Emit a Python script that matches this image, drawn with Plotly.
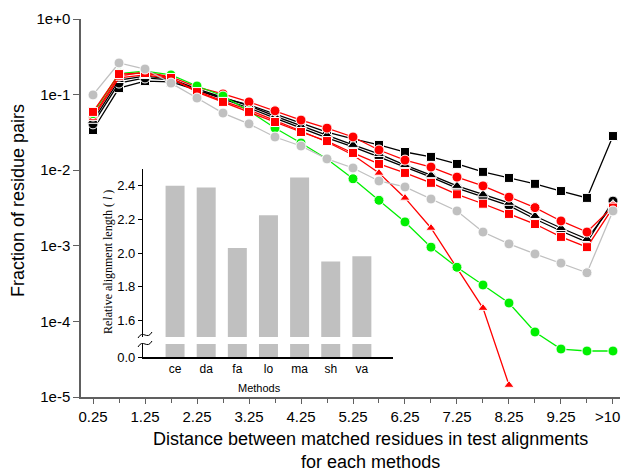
import plotly.graph_objects as go

# ---------------- data ----------------
x_vals = [0.25, 0.75, 1.25, 1.75, 2.25, 2.75, 3.25, 3.75, 4.25, 4.75, 5.25,
          5.75, 6.25, 6.75, 7.25, 7.75, 8.25, 8.75, 9.25, 9.75, 10.25]
x_tick_vals = [0.25, 1.25, 2.25, 3.25, 4.25, 5.25, 6.25, 7.25, 8.25, 9.25, 10.25]
x_tick_text = ["0.25", "1.25", "2.25", "3.25", "4.25", "5.25", "6.25", "7.25", "8.25", "9.25", ">10"]
y_tick_vals = [1e-5, 1e-4, 1e-3, 1e-2, 1e-1, 1e0]
y_tick_text = ["1e-5", "1e-4", "1e-3", "1e-2", "1e-1", "1e+0"]

black_squares = [0.034, 0.122, 0.151, 0.147, 0.115, 0.090, 0.073, 0.055, 0.042, 0.032, 0.0259,
                 0.0216, 0.0174, 0.0150, 0.0121, 0.0095, 0.0079, 0.0066, 0.0053, 0.0043, 0.0283]
red_circles = [0.052, 0.176, 0.200, 0.171, 0.126, 0.102, 0.080, 0.061, 0.046, 0.036, 0.0275,
               0.0185, 0.0136, 0.0110, 0.0081, 0.0062, 0.0044, 0.0032, 0.00213, 0.00152, 0.0033]
black_circles = [0.041, 0.142, 0.166, 0.157, 0.115, 0.0875, 0.0665, 0.049, 0.036, 0.0267, 0.0203,
                 0.0150, 0.0110, 0.0081, 0.0058, 0.0044, 0.0034, 0.00226, 0.00157, 0.00112, 0.0039]
black_triangles = [0.045, 0.156, 0.176, 0.161, 0.119, 0.093, 0.071, 0.052, 0.0385, 0.0292, 0.0216,
                   0.0164, 0.0117, 0.0086, 0.0062, 0.0048, 0.0037, 0.00248, 0.00172, 0.00123, 0.0035]
red_squares = [0.059, 0.187, 0.193, 0.166, 0.108, 0.080, 0.059, 0.0434, 0.032, 0.0243, 0.0169,
               0.0121, 0.0092, 0.0068, 0.0048, 0.0036, 0.00264, 0.00194, 0.00131, 0.00096, 0.0032]
red_triangles = [0.049, 0.166, 0.182, 0.161, 0.112, 0.082, 0.0626, 0.046, 0.033, 0.0236, 0.0159,
                 0.0092, 0.0043, 0.00172, 0.00051, 0.000150, 0.0000144]
green_circles = [0.056, 0.190, 0.205, 0.182, 0.130, 0.0958, 0.0607, 0.0361, 0.0229, 0.0141, 0.0077,
                 0.0040, 0.00207, 0.00096, 0.00052, 0.000303, 0.000175, 0.0000724, 0.0000431,
                 0.0000406, 0.0000406]
gray_circles = [0.099, 0.262, 0.218, 0.142, 0.090, 0.057, 0.041, 0.0275, 0.0209, 0.0141, 0.0107,
                0.0072, 0.0060, 0.00416, 0.00289, 0.00152, 0.00106, 0.00078, 0.00059, 0.00044, 0.00289]

methods = ["ce", "da", "fa", "lo", "ma", "sh", "va"]
rel_length = [2.40, 2.39, 2.03, 2.225, 2.45, 1.95, 1.98]
inset_ticks = [1.6, 1.8, 2.0, 2.2, 2.4]

# ---------------- figure ----------------
fig = go.Figure()

FONT = "Arial, Liberation Sans, sans-serif"

def add_series(y, color, symbol, size=9):
    fig.add_trace(go.Scatter(
        x=x_vals[:len(y)], y=y, mode="lines+markers",
        line=dict(color=color, width=1.3),
        marker=dict(symbol=symbol, size=size, color=color,
                    line=dict(color="white", width=1)),
        xaxis="x", yaxis="y", showlegend=False, hoverinfo="skip"))

add_series(black_squares, "#000000", "square", 9)
add_series(black_circles, "#000000", "circle", 10)
add_series(black_triangles, "#000000", "triangle-up", 10)
add_series(red_circles, "#ff0000", "circle", 10)
add_series(red_triangles, "#ff0000", "triangle-up", 9)
add_series(green_circles, "#00f000", "circle", 10)
add_series(red_squares, "#ff0000", "square", 9)
add_series(gray_circles, "#c0c0c0", "circle", 10)

# inset bars: lower (broken) segment and upper segment
fig.add_trace(go.Bar(x=methods, y=rel_length, marker=dict(color="#c0c0c0", line=dict(width=0)),
                     xaxis="x2", yaxis="y2", showlegend=False, hoverinfo="skip"))
fig.add_trace(go.Bar(x=methods, y=rel_length, marker=dict(color="#c0c0c0", line=dict(width=0)),
                     xaxis="x2", yaxis="y3", showlegend=False, hoverinfo="skip"))

L, R, T, B = 81, 3, 19, 74
W, H = 623, 471
pw, ph = W - L - R, H - T - B

def px(xp):
    return (xp - L) / pw

def py(yp):
    return (H - B - yp) / ph

axis_col = "#606060"

fig.update_layout(
    width=W, height=H,
    margin=dict(l=L, r=R, t=T, b=B, autoexpand=False),
    paper_bgcolor="white", plot_bgcolor="rgba(0,0,0,0)",
    font=dict(family=FONT, color="#000000"),
    bargap=0.39,
    xaxis=dict(domain=[0, 1], range=[0.019, 10.385], tickmode="array",
               tickvals=x_tick_vals, ticktext=x_tick_text[:-1] + [""],
               ticks="outside", ticklen=5,
               tickcolor=axis_col, showline=True, linecolor=axis_col, linewidth=1.5,
               showgrid=False, zeroline=False, tickfont=dict(size=15),
               ticklabeloverflow="allow", automargin=False,
               minor=dict(tick0=0.25, dtick=0.5, ticks="outside", ticklen=4, tickcolor=axis_col,
                          showgrid=False),
               anchor="y"),
    yaxis=dict(domain=[0, 1], type="log", range=[-5, 0], tickmode="array",
               tickvals=y_tick_vals, ticktext=y_tick_text, ticks="outside", ticklen=6,
               tickcolor=axis_col, showline=True, linecolor=axis_col, linewidth=1.5,
               showgrid=False, zeroline=False, tickfont=dict(size=15), anchor="x",
               automargin=False),
    xaxis2=dict(domain=[px(143), px(393)], anchor="y2", type="category",
                categoryorder="array", categoryarray=methods, range=[-1.03, 7.0],
                showline=True, linecolor="#000000", linewidth=1.5, ticks="",
                showgrid=False, zeroline=False, tickfont=dict(size=12), automargin=False),
    yaxis2=dict(domain=[py(357), py(344)], anchor="x2", range=[0, 0.08],
                tickmode="array", tickvals=[0], ticktext=["0.0"], ticks="outside", ticklen=4,
                tickcolor="#000000", showline=True, linecolor="#000000", linewidth=1.2,
                showgrid=False, zeroline=False, tickfont=dict(size=13), automargin=False),
    yaxis3=dict(domain=[py(337), py(169)], anchor="x2", range=[1.5, 2.5],
                tickmode="array", tickvals=inset_ticks,
                ticktext=["%.1f" % v for v in inset_ticks], ticks="outside", ticklen=4,
                tickcolor="#000000", showline=True, linecolor="#000000", linewidth=1.2,
                showgrid=False, zeroline=False, tickfont=dict(size=13), automargin=False),
)

# last x tick label (">10") placed so it stays inside the page
fig.add_annotation(text=x_tick_text[-1], xref="x", yref="paper", x=x_tick_vals[-1], y=py(416),
                   xanchor="right", yanchor="middle", xshift=9, showarrow=False,
                   font=dict(size=15, family=FONT))

# break marks on the inset y axis
def brk(y0):
    return (f"M {px(138)},{py(y0 + 3)} C {px(143)},{py(y0 - 6)} {px(147)},{py(y0 + 6)} "
            f"{px(152)},{py(y0 - 3)}")

fig.add_shape(type="rect", xref="paper", yref="paper", x0=px(137), x1=px(153),
              y0=py(344), y1=py(337), fillcolor="white", line=dict(width=0), layer="above")
for y0 in (335, 344):
    fig.add_shape(type="path", xref="paper", yref="paper", path=brk(y0),
                  line=dict(color="#000000", width=1), layer="above")

fig.add_annotation(text="Fraction of residue pairs", xref="paper", yref="paper",
                   x=px(18), y=py(201), textangle=-90, showarrow=False,
                   font=dict(size=18, family=FONT), xanchor="center", yanchor="middle")
fig.add_annotation(text="Distance between matched residues in test alignments<br>for each methods",
                   xref="paper", yref="paper", x=px(370), y=py(450), showarrow=False,
                   font=dict(size=18, family=FONT), xanchor="center", yanchor="middle")
fig.add_annotation(text="Methods", xref="paper", yref="paper", x=px(259), y=py(388),
                   showarrow=False, font=dict(size=11, family=FONT),
                   xanchor="center", yanchor="middle")
fig.add_annotation(text="Relative alignment length ( <i>l</i> )", xref="paper", yref="paper",
                   x=px(108), y=py(262), textangle=-90, showarrow=False,
                   font=dict(size=12, family="Liberation Serif, Times New Roman, serif"),
                   xanchor="center", yanchor="middle")

fig.write_html("out.html")
